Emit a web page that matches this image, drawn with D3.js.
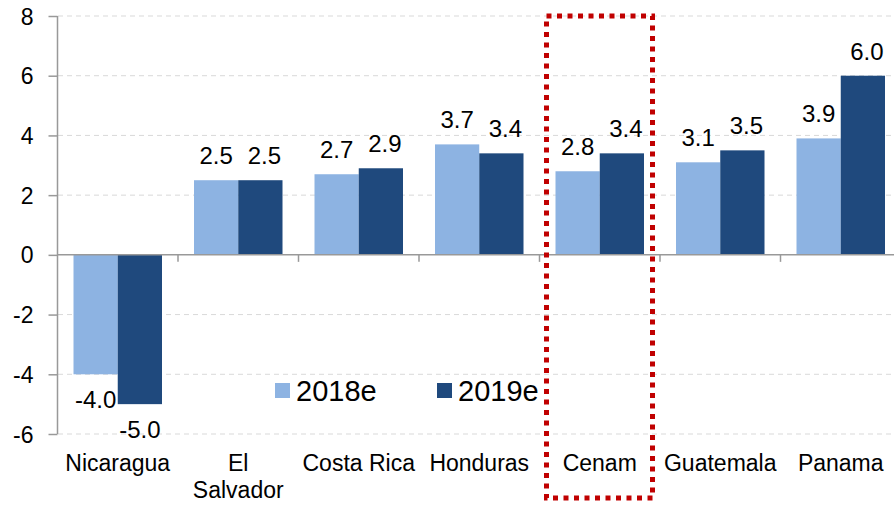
<!DOCTYPE html>
<meta charset='utf-8'>
<head>
    <title>Growth forecast bars</title>
    <script src='https://cdn.jsdelivr.net/npm/d3@7/dist/d3.min.js'></script>
</head>

<style>
    body { margin: 0; background: white; }
    text { font-family: 'Liberation Sans', Arial, sans-serif; fill: #000; }
    .grid line { stroke: #d9d9d9; stroke-dasharray: 5,4; }
    .axis path, .axis line { stroke: #999; stroke-width: 1.5px; }
</style>

<svg></svg>

<script>
    var vWidth = 894;
    var vHeight = 506;

    // data
    var categories = ['Nicaragua', 'El Salvador', 'Costa Rica', 'Honduras', 'Cenam', 'Guatemala', 'Panama'];
    var series = ['2018e', '2019e'];
    var values2018 = [-4.0, 2.5, 2.7, 3.7, 2.8, 3.1, 3.9];
    var values2019 = [-5.0, 2.5, 2.9, 3.4, 3.4, 3.5, 6.0];
    var yTicks = [-6, -4, -2, 0, 2, 4, 6, 8];
    var highlight = 'Cenam';
    var colors = {'2018e': '#8DB3E2', '2019e': '#1F497D'};

    // plain hyphen for negatives, like the original
    function fmt1(v) { return v.toFixed(1); }
    function fmt0(v) { return String(v); }

    var svg = d3.select('svg').attr('width', vWidth).attr('height', vHeight);

    var x0 = d3.scaleBand().domain(categories).range([57.5, 57.5 + 7 * 120.5]);
    var x1 = d3.scaleBand().domain(series).range([16, 104.5]);
    var y = d3.scaleLinear().domain([-6, 8]).range([434, 16]);

    // dashed gridlines
    svg.append('g').attr('class', 'grid')
        .selectAll('line').data(yTicks.filter(function (t) { return t !== 0; })).enter().append('line')
        .attr('x1', 58).attr('x2', vWidth)
        .attr('y1', function (d) { return y(d); }).attr('y2', function (d) { return y(d); });

    // bars
    var rows = categories.map(function (c, i) {
        return {cat: c, vals: [{s: '2018e', v: values2018[i]}, {s: '2019e', v: values2019[i]}]};
    });

    var groups = svg.selectAll('g.cat').data(rows).enter().append('g')
        .attr('class', 'cat')
        .attr('transform', function (d) { return 'translate(' + x0(d.cat) + ',0)'; });

    groups.selectAll('rect').data(function (d) { return d.vals; }).enter().append('rect')
        .attr('x', function (d) { return x1(d.s); })
        .attr('width', x1.bandwidth())
        .attr('y', function (d) { return y(Math.max(0, d.v)); })
        .attr('height', function (d) { return Math.abs(y(d.v) - y(0)); })
        .attr('fill', function (d) { return colors[d.s]; });

    groups.selectAll('text.val').data(function (d) { return d.vals; }).enter().append('text')
        .attr('class', 'val')
        .attr('text-anchor', 'middle')
        .style('font-size', '24px')
        .attr('x', function (d) { return x1(d.s) + x1.bandwidth() / 2 + (d.s === '2019e' && d.v > 0 ? 4 : 0); })
        .attr('y', function (d) { return d.v >= 0 ? y(d.v) - 16 : y(d.v) + 34; })
        .text(function (d) { return fmt1(d.v); });

    // y axis
    var yAxis = svg.append('g').attr('class', 'axis')
        .attr('transform', 'translate(57.5,0)')
        .call(d3.axisLeft(y).tickValues(yTicks).tickSize(9).tickPadding(15).tickFormat(fmt0));
    yAxis.select('.domain').attr('d', 'M0,' + y(8) + 'V' + y(-6));
    yAxis.selectAll('text').style('font-size', '23px').attr('dy', '0.35em');

    // x axis at zero
    var xAxis = svg.append('g').attr('class', 'axis')
        .attr('transform', 'translate(0,' + y(0) + ')');
    xAxis.append('line').attr('x1', 57.5).attr('x2', vWidth);
    xAxis.selectAll('line.tick').data(categories.slice(1)).enter().append('line')
        .attr('class', 'tick')
        .attr('x1', function (d) { return x0(d); }).attr('x2', function (d) { return x0(d); })
        .attr('y1', 0).attr('y2', 7);

    // category labels (below the plot)
    var labels = svg.selectAll('text.cat').data(categories).enter().append('text')
        .attr('class', 'cat')
        .attr('text-anchor', 'middle')
        .style('font-size', '23px')
        .attr('x', function (d) { return x0(d) + x0.bandwidth() / 2; })
        .attr('y', 471);
    labels.each(function (d) {
        var parts = d === 'El Salvador' ? ['El', 'Salvador'] : [d];
        var t = d3.select(this);
        parts.forEach(function (p, i) {
            t.append('tspan').attr('x', x0(d) + x0.bandwidth() / 2).attr('dy', i === 0 ? 0 : 27).text(p);
        });
    });

    // legend
    var legend = svg.append('g').attr('transform', 'translate(275,383)');
    series.forEach(function (s, i) {
        var lg = legend.append('g').attr('transform', 'translate(' + (i * 162) + ',0)');
        lg.append('rect').attr('width', 15).attr('height', 15).attr('fill', colors[s]);
        lg.append('text').attr('x', 21).attr('y', 18).style('font-size', '29px').text(s);
    });

    // red dotted highlight box
    svg.append('rect')
        .attr('x', x0(highlight) + 7).attr('y', 16)
        .attr('width', 106).attr('height', 482)
        .attr('fill', 'none')
        .attr('stroke', '#C00000')
        .attr('stroke-width', 5)
        .attr('stroke-dasharray', '5,5.5');
</script>
